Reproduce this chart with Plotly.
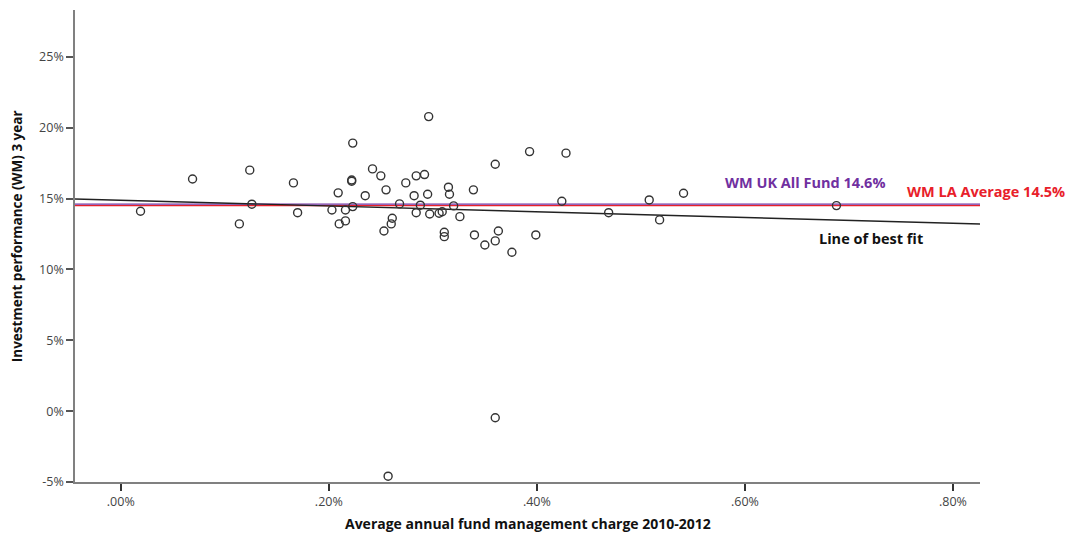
import plotly.graph_objects as go

# Fund data: average annual management charge (%) vs 3-year WM performance (%)
charge = [0.019, 0.069, 0.124, 0.126, 0.114, 0.166, 0.170, 0.209, 0.203, 0.216,
          0.210, 0.216, 0.223, 0.296, 0.393, 0.428, 0.360, 0.242, 0.250, 0.222,
          0.222, 0.284, 0.292, 0.274, 0.255, 0.235, 0.282, 0.295, 0.315, 0.316,
          0.339, 0.424, 0.268, 0.288, 0.320, 0.223, 0.297, 0.284, 0.306, 0.309,
          0.326, 0.261, 0.260, 0.253, 0.311, 0.311, 0.340, 0.363, 0.360, 0.350,
          0.376, 0.399, 0.469, 0.508, 0.518, 0.541, 0.688, 0.257, 0.360]
performance = [14.10, 16.38, 17.00, 14.60, 13.21, 16.10, 14.00, 15.40, 14.19, 14.19,
               13.21, 13.42, 18.91, 20.78, 18.31, 18.20, 17.42, 17.09, 16.60, 16.31,
               16.22, 16.60, 16.69, 16.10, 15.61, 15.20, 15.20, 15.30, 15.80, 15.30,
               15.61, 14.81, 14.62, 14.53, 14.48, 14.43, 13.91, 14.00, 13.96, 14.07,
               13.72, 13.61, 13.21, 12.71, 12.62, 12.31, 12.43, 12.71, 12.01, 11.72,
               11.21, 12.43, 14.00, 14.90, 13.49, 15.37, 14.50, -4.59, -0.47]

x_range = [-0.044, 0.826]
y_range = [-5, 28.3]
fit_y = [14.97, 13.20]          # line of best fit at the x-range ends
wm_uk_all_fund = 14.6
wm_la_average = 14.5

x_ticks = [0.0, 0.2, 0.4, 0.6, 0.8]
x_ticktext = [".00%", ".20%", ".40%", ".60%", ".80%"]
y_ticks = [-5, 0, 5, 10, 15, 20, 25]
y_ticktext = ["-5%", "0%", "5%", "10%", "15%", "20%", "25%"]

fig = go.Figure()

fig.add_trace(go.Scatter(x=x_range, y=[wm_la_average] * 2, mode="lines",
                         line=dict(color="#E8202A", width=1.4), hoverinfo="skip"))
fig.add_trace(go.Scatter(x=x_range, y=[wm_uk_all_fund] * 2, mode="lines",
                         line=dict(color="#7030A0", width=1.3), hoverinfo="skip"))
fig.add_trace(go.Scatter(x=x_range, y=fit_y, mode="lines",
                         line=dict(color="#222222", width=1.4), hoverinfo="skip"))
fig.add_trace(go.Scatter(x=charge, y=performance, mode="markers",
                         marker=dict(symbol="circle-open", size=8,
                                     color="#333333", line=dict(width=1.4))))

fig.update_layout(
    width=1073, height=537,
    margin=dict(l=75, r=93, t=10, b=55),
    paper_bgcolor="white", plot_bgcolor="white",
    showlegend=False,
    font=dict(family="Open Sans", size=12, color="#444444"),
    xaxis=dict(range=x_range, showgrid=False, zeroline=False,
               showline=True, linecolor="#808080", linewidth=1.5,
               ticks="outside", ticklen=7, tickwidth=1.5, tickcolor="#333333",
               tickvals=x_ticks, ticktext=x_ticktext,
               tickfont=dict(family="Open Sans", size=12.5, color="#444444")),
    yaxis=dict(range=y_range, showgrid=False, zeroline=False,
               showline=True, linecolor="#808080", linewidth=1.5,
               ticks="outside", ticklen=7, tickwidth=1.5, tickcolor="#555555",
               tickvals=y_ticks, ticktext=y_ticktext,
               tickfont=dict(family="Open Sans", size=12.5, color="#444444")),
)

fig.add_annotation(text="<b>WM UK All Fund 14.6%</b>", x=0.658, y=16.1,
                   xref="x", yref="y", showarrow=False,
                   xanchor="center", yanchor="middle",
                   font=dict(family="Open Sans", size=14.5, color="#7030A0"))
fig.add_annotation(text="<b>WM LA Average 14.5%</b>", x=1.0066, y=15.47,
                   xref="paper", yref="y", showarrow=False,
                   xanchor="center", yanchor="middle",
                   font=dict(family="Open Sans", size=14.5, color="#E8202A"))
fig.add_annotation(text="<b>Line of best fit</b>", x=0.721, y=12.15,
                   xref="x", yref="y", showarrow=False,
                   xanchor="center", yanchor="middle",
                   font=dict(family="Open Sans", size=14.5, color="#111111"))

fig.add_annotation(text="<b>Investment performance (WM) 3 year</b>",
                   x=-0.064, y=0.521, xref="paper", yref="paper",
                   xanchor="center", yanchor="middle",
                   textangle=-90, showarrow=False,
                   font=dict(family="Open Sans", size=13.5, color="#111111"))
fig.add_annotation(text="<b>Average annual fund management charge 2010-2012</b>",
                   x=0.5006, y=-0.087, xref="paper", yref="paper",
                   xanchor="center", yanchor="middle",
                   showarrow=False,
                   font=dict(family="Open Sans", size=14, color="#111111"))

fig.write_html("out.html")
